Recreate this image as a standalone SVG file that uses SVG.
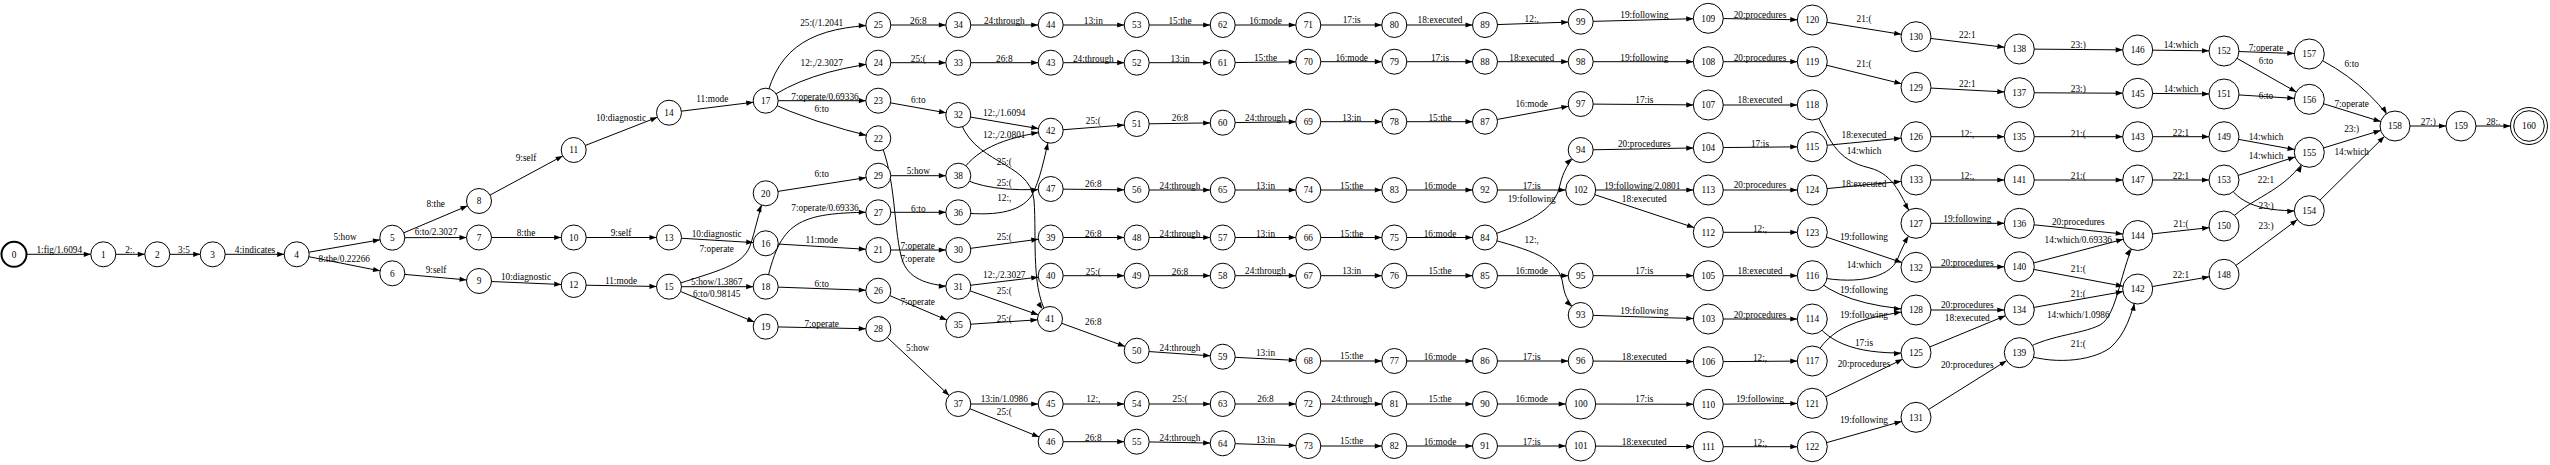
<svg xmlns="http://www.w3.org/2000/svg" width="2550" height="465" viewBox="0 0 2550 465">
<style>
.e{fill:none;stroke:#000;stroke-width:1;marker-end:url(#a2)}
.e3{marker-end:url(#a3)}
.e4{marker-end:url(#a4)}
text{font-family:"Liberation Serif","Times New Roman",serif;font-size:9.3px;text-anchor:middle;fill:#000}
.n circle{fill:#fff;stroke:#000;stroke-width:1}
</style>
<defs>
<marker id="a2" markerUnits="userSpaceOnUse" markerWidth="8" markerHeight="6" refX="19.5" refY="0" orient="auto" overflow="visible" style="overflow:visible"><path d="M0,-2.6 L7,0 L0,2.6 Z" fill="#000"/></marker>
<marker id="a3" markerUnits="userSpaceOnUse" markerWidth="8" markerHeight="6" refX="22" refY="0" orient="auto" overflow="visible" style="overflow:visible"><path d="M0,-2.6 L7,0 L0,2.6 Z" fill="#000"/></marker>
<marker id="a4" markerUnits="userSpaceOnUse" markerWidth="8" markerHeight="6" refX="25.5" refY="0" orient="auto" overflow="visible" style="overflow:visible"><path d="M0,-2.6 L7,0 L0,2.6 Z" fill="#000"/></marker>
</defs>
<rect width="2550" height="465" fill="#fff"/>
<g id="edges">
<path class="e" d="M14,254.3 L103.3,254.3"/><text x="59.3" y="253.2">1:fig/1.6094</text>
<path class="e" d="M103.3,254.3 L157.3,254.3"/><text x="130" y="253.2">2:.</text>
<path class="e" d="M157.3,254.3 L212.7,254.3"/><text x="184" y="253.2">3:5</text>
<path class="e" d="M212.7,254.3 L296.7,254.3"/><text x="255" y="253.2">4:indicates</text>
<path class="e" d="M296.7,254.3 L392.3,237.7"/><text x="345" y="239.9">5:how</text>
<path class="e" d="M296.7,254.3 L392.3,273.3"/><text x="344.3" y="261.5">8:the/0.22266</text>
<path class="e" d="M392.3,237.7 L479,201"/><text x="435.7" y="206.5">8:the</text>
<path class="e" d="M392.3,237.7 L479,237.5"/><text x="436" y="235.2">6:to/2.3027</text>
<path class="e" d="M392.3,273.3 L479,281"/><text x="436" y="272.5">9:self</text>
<path class="e" d="M479,201 L573.7,150"/><text x="526" y="160.9">9:self</text>
<path class="e" d="M479,237.5 L573.7,237.5"/><text x="526" y="235.5">8:the</text>
<path class="e" d="M479,281 L573.7,285"/><text x="526" y="279.9">10:diagnostic</text>
<path class="e" d="M573.7,150 L669,112.7"/><text x="621" y="120.5">10:diagnostic</text>
<path class="e" d="M573.7,237.5 L669,237.5"/><text x="621" y="235.5">9:self</text>
<path class="e" d="M573.7,285 L669,286.7"/><text x="621" y="284.2">11:mode</text>
<path class="e" d="M669,112.7 L765.7,100.7"/><text x="712.3" y="102.2">11:mode</text>
<path class="e" d="M669,237.5 L765.7,243.3"/><text x="716.7" y="237.2">10:diagnostic</text>
<path class="e" d="M669,286.7 C720,270 742,266 750,246 C755,232 758,214 765.7,193.3"/><text x="716.7" y="252.2">7:operate</text>
<path class="e" d="M669,286.7 L765.7,286.7"/><text x="716.7" y="284.9">5:how/1.3867</text>
<path class="e" d="M669,286.7 L765.7,326.7"/><text x="716.7" y="297.2">6:to/0.98145</text>
<path class="e" d="M765.7,100.7 C778,45 815,27 878.3,25"/><text x="821.7" y="25.9">25:(/1.2041</text>
<path class="e" d="M765.7,100.7 Q805,72 878.3,62.7"/><text x="821.7" y="65.5">12:,/2.3027</text>
<path class="e" d="M765.7,100.7 L878.3,100.7"/><text x="825" y="99.9">7:operate/0.69336</text>
<path class="e" d="M765.7,100.7 Q810,122 878.3,138.3"/><text x="821.7" y="112.2">6:to</text>
<path class="e" d="M765.7,193.3 L878.3,175.7"/><text x="821.7" y="176.9">6:to</text>
<path class="e" d="M765.7,286.7 C780,222 795,212 878.3,212.3"/><text x="825" y="210.9">7:operate/0.69336</text>
<path class="e" d="M765.7,243.3 L878.3,250"/><text x="821.7" y="243.2">11:mode</text>
<path class="e" d="M765.7,286.7 L878.3,290.7"/><text x="821.7" y="286.5">6:to</text>
<path class="e" d="M765.7,326.7 L878.3,329"/><text x="821.7" y="326.5">7:operate</text>
<path class="e" d="M878.3,25 L958.3,25"/><text x="918.3" y="23.9">26:8</text>
<path class="e" d="M878.3,62.7 L958.3,62.7"/><text x="918.3" y="61.5">25:(</text>
<path class="e" d="M878.3,100.7 L958.3,115"/><text x="918.3" y="103.2">6:to</text>
<path class="e" d="M878.3,175.7 L958.3,175.7"/><text x="918.3" y="174.2">5:how</text>
<path class="e" d="M878.3,212.3 L958.3,212.3"/><text x="918.3" y="211.5">6:to</text>
<path class="e" d="M878.3,250 L958.3,250"/><text x="917.7" y="249.2">7:operate</text>
<path class="e" d="M878.3,138.3 C897,175 893,235 903,262 C910,280 930,286 958.3,286.7"/><text x="917.7" y="261.5">7:operate</text>
<path class="e" d="M878.3,290.7 L958.3,325"/><text x="917.7" y="304.9">7:operate</text>
<path class="e" d="M878.3,329 L958.3,404"/><text x="917.7" y="350.5">5:how</text>
<path class="e" d="M958.3,25 L1050.7,25"/><text x="1004.3" y="23.9">24:through</text>
<path class="e" d="M958.3,62.7 L1050.7,62.7"/><text x="1004.3" y="61.5">26:8</text>
<path class="e" d="M958.3,115 L1050.7,130.7"/><text x="1004.3" y="115.9">12:,/1.6094</text>
<path class="e" d="M958.3,175.7 C975,150 1000,138 1050.7,130.7"/><text x="1004.3" y="137.5">12:,/2.0801</text>
<path class="e" d="M958.3,115 C970,165 1030,160 1034,200 C1037,240 1030,292 1050,319"/><text x="1004.3" y="164.9">25:(</text>
<path class="e" d="M958.3,175.7 Q985,193 1050.7,189"/><text x="1004.3" y="185.9">25:(</text>
<path class="e" d="M958.3,212.3 C990,216 1020,214 1032,195 C1040,180 1044,160 1050.7,130.7"/><text x="1004.3" y="200.5">12:,</text>
<path class="e" d="M958.3,250 L1050.7,237.5"/><text x="1004.3" y="239.9">25:(</text>
<path class="e" d="M958.3,286.7 L1050.7,275.7"/><text x="1004.3" y="277.5">12:,/2.3027</text>
<path class="e" d="M958.3,286.7 L1050,319"/><text x="1004.3" y="294.2">25:(</text>
<path class="e" d="M958.3,325 L1050,319"/><text x="1004.3" y="322.2">25:(</text>
<path class="e" d="M958.3,404 L1050.7,404"/><text x="1004.3" y="402.2">13:in/1.0986</text>
<path class="e" d="M958.3,404 L1050.7,441.7"/><text x="1004.3" y="414.9">25:(</text>
<path class="e" d="M1050.7,25 L1136.7,25"/><text x="1093.3" y="23.9">13:in</text>
<path class="e" d="M1050.7,62.7 L1136.7,62.7"/><text x="1093.3" y="61.5">24:through</text>
<path class="e" d="M1050.7,130.7 L1136.7,124"/><text x="1093.3" y="124.2">25:(</text>
<path class="e" d="M1050.7,189 L1136.7,190"/><text x="1093.3" y="186.5">26:8</text>
<path class="e" d="M1050.7,237.5 L1136.7,237.5"/><text x="1093.3" y="237.2">26:8</text>
<path class="e" d="M1050.7,275.7 L1136.7,275.7"/><text x="1093.3" y="274.9">25:(</text>
<path class="e" d="M1050,319 L1136.7,350.7"/><text x="1093.3" y="324.9">26:8</text>
<path class="e" d="M1050.7,404 L1136.7,404"/><text x="1093.3" y="402.2">12:,</text>
<path class="e" d="M1050.7,441.7 L1136.7,441.7"/><text x="1093.3" y="440.5">26:8</text>
<path class="e" d="M1136.7,25 L1222.7,25"/><text x="1180" y="23.9">15:the</text>
<path class="e" d="M1136.7,62.7 L1222.7,62.7"/><text x="1180" y="61.5">13:in</text>
<path class="e" d="M1136.7,124 L1222.7,122.7"/><text x="1180" y="120.5">26:8</text>
<path class="e" d="M1136.7,190 L1222.7,190"/><text x="1180" y="188.9">24:through</text>
<path class="e" d="M1136.7,237.5 L1222.7,237.5"/><text x="1180" y="237.2">24:through</text>
<path class="e" d="M1136.7,275.7 L1222.7,275.7"/><text x="1180" y="274.9">26:8</text>
<path class="e" d="M1136.7,350.7 L1222.7,356.7"/><text x="1180" y="350.5">24:through</text>
<path class="e" d="M1136.7,404 L1222.7,404"/><text x="1180" y="402.2">25:(</text>
<path class="e" d="M1136.7,441.7 L1222.7,443.3"/><text x="1180" y="440.5">24:through</text>
<path class="e" d="M1222.7,25 L1308.3,25"/><text x="1265.5" y="23.9">16:mode</text>
<path class="e" d="M1222.7,62.7 L1308.3,61.7"/><text x="1265.5" y="60.5">15:the</text>
<path class="e" d="M1222.7,122.7 L1308.3,121.7"/><text x="1265.5" y="120.9">24:through</text>
<path class="e" d="M1222.7,190 L1308.3,190"/><text x="1265.5" y="188.9">13:in</text>
<path class="e" d="M1222.7,237.5 L1308.3,237.5"/><text x="1265.5" y="237.2">13:in</text>
<path class="e" d="M1222.7,275.7 L1308.3,275.7"/><text x="1265.5" y="274.2">24:through</text>
<path class="e" d="M1222.7,356.7 L1308.3,361"/><text x="1265.5" y="356.2">13:in</text>
<path class="e" d="M1222.7,404 L1308.3,404"/><text x="1265.5" y="402.2">26:8</text>
<path class="e" d="M1222.7,443.3 L1308.3,446"/><text x="1265.5" y="443.2">13:in</text>
<path class="e" d="M1308.3,25 L1394.3,25"/><text x="1351.7" y="23.2">17:is</text>
<path class="e" d="M1308.3,61.7 L1394.3,61.7"/><text x="1351.7" y="60.5">16:mode</text>
<path class="e" d="M1308.3,121.7 L1394.3,121.7"/><text x="1351.7" y="120.5">13:in</text>
<path class="e" d="M1308.3,190 L1394.3,190"/><text x="1351.7" y="188.9">15:the</text>
<path class="e" d="M1308.3,237.5 L1394.3,237.5"/><text x="1351.7" y="237.2">15:the</text>
<path class="e" d="M1308.3,275.7 L1394.3,275.7"/><text x="1351.7" y="274.2">13:in</text>
<path class="e" d="M1308.3,361 L1394.3,361"/><text x="1351.7" y="359.2">15:the</text>
<path class="e" d="M1308.3,404 L1394.3,404"/><text x="1351.7" y="402.2">24:through</text>
<path class="e" d="M1308.3,446 L1394.3,446"/><text x="1351.7" y="444.2">15:the</text>
<path class="e" d="M1394.3,25 L1485,25"/><text x="1440" y="23.2">18:executed</text>
<path class="e" d="M1394.3,61.7 L1485,61.7"/><text x="1440" y="60.5">17:is</text>
<path class="e" d="M1394.3,121.7 L1485,121.7"/><text x="1440" y="120.5">15:the</text>
<path class="e" d="M1394.3,190 L1485,190"/><text x="1440" y="188.9">16:mode</text>
<path class="e" d="M1394.3,237.5 L1485,237.5"/><text x="1440" y="237.2">16:mode</text>
<path class="e" d="M1394.3,275.7 L1485,275.7"/><text x="1440" y="274.2">15:the</text>
<path class="e" d="M1394.3,361 L1485,361"/><text x="1440" y="359.9">16:mode</text>
<path class="e" d="M1394.3,404 L1485,404"/><text x="1440" y="402.2">15:the</text>
<path class="e" d="M1394.3,446 L1485,446"/><text x="1440" y="444.9">16:mode</text>
<path class="e" d="M1485,25 L1580.7,21.7"/><text x="1531.7" y="21.5">12:,</text>
<path class="e" d="M1485,61.7 L1580.7,61.7"/><text x="1531.7" y="60.5">18:executed</text>
<path class="e" d="M1485,121.7 L1580.7,104"/><text x="1531.7" y="107.2">16:mode</text>
<path class="e e3" d="M1485,190 L1580.7,190"/><text x="1531.7" y="188.9">17:is</text>
<path class="e" d="M1485,237.5 C1530,222 1555,210 1560,185 C1563,172 1568,162 1580.7,150"/><text x="1531.7" y="201.5">19:following</text>
<path class="e" d="M1485,237.5 C1530,250 1560,258 1563,285 C1565,298 1570,305 1580.7,315"/><text x="1531.7" y="242.5">12:,</text>
<path class="e" d="M1485,275.7 L1580.7,275.7"/><text x="1531.7" y="274.2">16:mode</text>
<path class="e" d="M1485,361 L1580.7,361"/><text x="1531.7" y="359.9">17:is</text>
<path class="e e3" d="M1485,404 L1580.7,404"/><text x="1531.7" y="402.2">16:mode</text>
<path class="e e3" d="M1485,446 L1580.7,446"/><text x="1531.7" y="444.9">17:is</text>
<path class="e e3" d="M1580.7,21.7 L1708.3,18.3"/><text x="1644.3" y="17.5">19:following</text>
<path class="e e3" d="M1580.7,61.7 L1708.3,61.7"/><text x="1644.3" y="60.5">19:following</text>
<path class="e e3" d="M1580.7,104 L1708.3,105"/><text x="1644.3" y="103.2">17:is</text>
<path class="e e3" d="M1580.7,150 L1708.3,147.7"/><text x="1644.3" y="146.5">20:procedures</text>
<path class="e e3" d="M1580.7,190 L1708.3,190"/><text x="1642.3" y="188.9">19:following/2.0801</text>
<path class="e e3" d="M1580.7,190 L1708.3,232.3"/><text x="1644.3" y="201.5">18:executed</text>
<path class="e e3" d="M1580.7,275.7 L1708.3,275.7"/><text x="1644.3" y="274.2">17:is</text>
<path class="e e3" d="M1580.7,315 L1708.3,319"/><text x="1644.3" y="314.2">19:following</text>
<path class="e e3" d="M1580.7,361 L1708.3,361.7"/><text x="1644.3" y="359.9">18:executed</text>
<path class="e e3" d="M1580.7,404 L1708.3,404.3"/><text x="1644.3" y="402.2">17:is</text>
<path class="e e3" d="M1580.7,446 L1708.3,446.7"/><text x="1644.3" y="444.9">18:executed</text>
<path class="e e3" d="M1708.3,18.3 L1812.3,20"/><text x="1760" y="17.5">20:procedures</text>
<path class="e e3" d="M1708.3,61.7 L1812.3,61.7"/><text x="1760" y="60.5">20:procedures</text>
<path class="e e3" d="M1708.3,105 L1812.3,105"/><text x="1760" y="103.2">18:executed</text>
<path class="e e3" d="M1708.3,147.7 L1812.3,146.7"/><text x="1760" y="146.5">17:is</text>
<path class="e e3" d="M1708.3,190 L1812.3,190"/><text x="1760" y="188.2">20:procedures</text>
<path class="e e3" d="M1708.3,232.3 L1812.3,232.3"/><text x="1760" y="231.5">12:,</text>
<path class="e e3" d="M1708.3,275.7 L1812.3,275.7"/><text x="1760" y="274.2">18:executed</text>
<path class="e e3" d="M1708.3,319 L1812.3,319"/><text x="1760" y="317.5">20:procedures</text>
<path class="e e3" d="M1708.3,361.7 L1812.3,361"/><text x="1760" y="360.9">12:,</text>
<path class="e e3" d="M1708.3,404.3 L1812.3,403.3"/><text x="1760" y="402.2">19:following</text>
<path class="e e3" d="M1708.3,446.7 L1812.3,446.7"/><text x="1760" y="445.5">12:,</text>
<path class="e e3" d="M1812.3,20 L1916,36.7"/><text x="1864" y="21.5">21:(</text>
<path class="e e3" d="M1812.3,61.7 L1916,87.3"/><text x="1864" y="67.2">21:(</text>
<path class="e e3" d="M1812.3,146.7 L1916,136.7"/><text x="1864" y="138.2">18:executed</text>
<path class="e e3" d="M1812.3,105 C1830,140 1835,160 1870,168 C1895,175 1900,195 1916,223.3"/><text x="1864" y="154.2">14:which</text>
<path class="e e3" d="M1812.3,190 L1916,180"/><text x="1864" y="187.2">18:executed</text>
<path class="e e3" d="M1812.3,232.3 L1916,267.3"/><text x="1864" y="240.2">19:following</text>
<path class="e e3" d="M1812.3,275.7 C1850,285 1890,280 1898,258 C1902,248 1906,240 1916,223.3"/><text x="1864" y="268.2">14:which</text>
<path class="e e3" d="M1812.3,275.7 Q1840,305 1916,310"/><text x="1864" y="293.2">19:following</text>
<path class="e e3" d="M1812.3,361 C1830,325 1860,318 1916,310"/><text x="1864" y="318.2">19:following</text>
<path class="e e3" d="M1812.3,319 C1830,345 1860,355 1916,352.7"/><text x="1864" y="345.5">17:is</text>
<path class="e e3" d="M1812.3,403.3 L1916,352.7"/><text x="1864" y="366.5">20:procedures</text>
<path class="e e3" d="M1812.3,446.7 L1916,417.3"/><text x="1864" y="423.2">19:following</text>
<path class="e e3" d="M1916,36.7 L2019.3,49"/><text x="1967.3" y="38.2">22:1</text>
<path class="e e3" d="M1916,87.3 L2019.3,92.7"/><text x="1967.3" y="86.5">22:1</text>
<path class="e e3" d="M1916,136.7 L2019.3,136.7"/><text x="1967.3" y="136.5">12:,</text>
<path class="e e3" d="M1916,180 L2019.3,180"/><text x="1967.3" y="179.2">12:,</text>
<path class="e e3" d="M1916,223.3 L2019.3,223.3"/><text x="1967.3" y="222.2">19:following</text>
<path class="e e3" d="M1916,267.3 L2019.3,266.7"/><text x="1967.3" y="265.5">20:procedures</text>
<path class="e e3" d="M1916,310 L2019.3,310"/><text x="1967.3" y="308.2">20:procedures</text>
<path class="e e3" d="M1916,352.7 L2019.3,310"/><text x="1967.3" y="320.5">18:executed</text>
<path class="e e3" d="M1916,417.3 L2019.3,352.7"/><text x="1967.3" y="367.9">20:procedures</text>
<path class="e e3" d="M2019.3,49 L2137.7,50"/><text x="2078.3" y="48.2">23:)</text>
<path class="e e3" d="M2019.3,92.7 L2137.7,93.3"/><text x="2078.3" y="91.5">23:)</text>
<path class="e e3" d="M2019.3,136.7 L2137.7,136.7"/><text x="2078.3" y="136.5">21:(</text>
<path class="e e3" d="M2019.3,180 L2137.7,180"/><text x="2078.3" y="179.2">21:(</text>
<path class="e e3" d="M2019.3,223.3 L2137.7,235.5"/><text x="2078.3" y="224.9">20:procedures</text>
<path class="e e3" d="M2019.3,266.7 L2137.7,235.5"/><text x="2078.3" y="243.2">14:which/0.69336</text>
<path class="e e3" d="M2019.3,266.7 L2137.7,289"/><text x="2078.3" y="271.5">21:(</text>
<path class="e e3" d="M2019.3,310 L2137.7,289"/><text x="2078.3" y="296.5">21:(</text>
<path class="e e3" d="M2019.3,352.7 C2045,335 2080,335 2100,325 C2118,315 2120,268 2137.7,235.5"/><text x="2078.3" y="318.2">14:which/1.0986</text>
<path class="e e3" d="M2019.3,352.7 C2050,365 2090,362 2110,348 C2125,335 2132,315 2137.7,289"/><text x="2078.3" y="346.5">21:(</text>
<path class="e e3" d="M2137.7,50 L2224,51"/><text x="2181" y="48.2">14:which</text>
<path class="e e3" d="M2137.7,93.3 L2224,94"/><text x="2181" y="92.2">14:which</text>
<path class="e e3" d="M2137.7,136.7 L2224,136.7"/><text x="2181" y="135.9">22:1</text>
<path class="e e3" d="M2137.7,180 L2224,180"/><text x="2181" y="179.2">22:1</text>
<path class="e e3" d="M2137.7,235.5 L2224,226"/><text x="2181" y="227.2">21:(</text>
<path class="e e3" d="M2137.7,289 L2224,274.3"/><text x="2181" y="277.5">22:1</text>
<path class="e e3" d="M2224,51 L2309.3,54"/><text x="2266" y="50.5">7:operate</text>
<path class="e e3" d="M2224,51 L2309.3,99.3"/><text x="2266" y="63.9">6:to</text>
<path class="e e3" d="M2224,94 L2309.3,99.3"/><text x="2266" y="98.9">6:to</text>
<path class="e e3" d="M2224,136.7 L2309.3,152.3"/><text x="2266" y="139.9">14:which</text>
<path class="e e3" d="M2224,180 L2309.3,152.3"/><text x="2266" y="159.2">14:which</text>
<path class="e e3" d="M2224,226 C2250,195 2285,195 2309.3,152.3"/><text x="2266" y="182.5">22:1</text>
<path class="e e3" d="M2224,180 C2240,205 2260,212 2309.3,210.7"/><text x="2266" y="209.2">23:)</text>
<path class="e e3" d="M2224,274.3 L2309.3,210.7"/><text x="2266" y="228.9">23:)</text>
<path class="e e3" d="M2309.3,54 Q2365,80 2395,126"/><text x="2351.7" y="67.2">6:to</text>
<path class="e e3" d="M2309.3,99.3 L2395,126"/><text x="2351.7" y="106.5">7:operate</text>
<path class="e e3" d="M2309.3,152.3 L2395,126"/><text x="2351.7" y="131.5">23:)</text>
<path class="e e3" d="M2309.3,210.7 L2395,126"/><text x="2351.7" y="154.9">14:which</text>
<path class="e e3" d="M2395,126 L2461,126"/><text x="2428.3" y="124.9">27:)</text>
<path class="e e4" d="M2461,126 L2529,126"/><text x="2493.3" y="124.9">28:.</text>
</g>
<g id="nodes" class="n">
<g id="n0"><circle cx="14" cy="254.3" r="12.5" stroke-width="2" style="stroke-width:2"/><text x="14" y="257.6">0</text></g>
<g id="n1"><circle cx="103.3" cy="254.3" r="12.5"/><text x="103.3" y="257.6">1</text></g>
<g id="n2"><circle cx="157.3" cy="254.3" r="12.5"/><text x="157.3" y="257.6">2</text></g>
<g id="n3"><circle cx="212.7" cy="254.3" r="12.5"/><text x="212.7" y="257.6">3</text></g>
<g id="n4"><circle cx="296.7" cy="254.3" r="12.5"/><text x="296.7" y="257.6">4</text></g>
<g id="n5"><circle cx="392.3" cy="237.7" r="12.5"/><text x="392.3" y="241">5</text></g>
<g id="n6"><circle cx="392.3" cy="273.3" r="12.5"/><text x="392.3" y="276.6">6</text></g>
<g id="n7"><circle cx="479" cy="237.5" r="12.5"/><text x="479" y="240.8">7</text></g>
<g id="n8"><circle cx="479" cy="201" r="12.5"/><text x="479" y="204.3">8</text></g>
<g id="n9"><circle cx="479" cy="281" r="12.5"/><text x="479" y="284.3">9</text></g>
<g id="n10"><circle cx="573.7" cy="237.5" r="12.5"/><text x="573.7" y="240.8">10</text></g>
<g id="n11"><circle cx="573.7" cy="150" r="12.5"/><text x="573.7" y="153.3">11</text></g>
<g id="n12"><circle cx="573.7" cy="285" r="12.5"/><text x="573.7" y="288.3">12</text></g>
<g id="n13"><circle cx="669" cy="237.5" r="12.5"/><text x="669" y="240.8">13</text></g>
<g id="n14"><circle cx="669" cy="112.7" r="12.5"/><text x="669" y="116">14</text></g>
<g id="n15"><circle cx="669" cy="286.7" r="12.5"/><text x="669" y="290">15</text></g>
<g id="n16"><circle cx="765.7" cy="243.3" r="12.5"/><text x="765.7" y="246.6">16</text></g>
<g id="n17"><circle cx="765.7" cy="100.7" r="12.5"/><text x="765.7" y="104">17</text></g>
<g id="n18"><circle cx="765.7" cy="286.7" r="12.5"/><text x="765.7" y="290">18</text></g>
<g id="n19"><circle cx="765.7" cy="326.7" r="12.5"/><text x="765.7" y="330">19</text></g>
<g id="n20"><circle cx="765.7" cy="193.3" r="12.5"/><text x="765.7" y="196.6">20</text></g>
<g id="n21"><circle cx="878.3" cy="250" r="12.5"/><text x="878.3" y="253.3">21</text></g>
<g id="n22"><circle cx="878.3" cy="138.3" r="12.5"/><text x="878.3" y="141.6">22</text></g>
<g id="n23"><circle cx="878.3" cy="100.7" r="12.5"/><text x="878.3" y="104">23</text></g>
<g id="n24"><circle cx="878.3" cy="62.7" r="12.5"/><text x="878.3" y="66">24</text></g>
<g id="n25"><circle cx="878.3" cy="25" r="12.5"/><text x="878.3" y="28.3">25</text></g>
<g id="n26"><circle cx="878.3" cy="290.7" r="12.5"/><text x="878.3" y="294">26</text></g>
<g id="n27"><circle cx="878.3" cy="212.3" r="12.5"/><text x="878.3" y="215.6">27</text></g>
<g id="n28"><circle cx="878.3" cy="329" r="12.5"/><text x="878.3" y="332.3">28</text></g>
<g id="n29"><circle cx="878.3" cy="175.7" r="12.5"/><text x="878.3" y="179">29</text></g>
<g id="n30"><circle cx="958.3" cy="250" r="12.5"/><text x="958.3" y="253.3">30</text></g>
<g id="n31"><circle cx="958.3" cy="286.7" r="12.5"/><text x="958.3" y="290">31</text></g>
<g id="n32"><circle cx="958.3" cy="115" r="12.5"/><text x="958.3" y="118.3">32</text></g>
<g id="n33"><circle cx="958.3" cy="62.7" r="12.5"/><text x="958.3" y="66">33</text></g>
<g id="n34"><circle cx="958.3" cy="25" r="12.5"/><text x="958.3" y="28.3">34</text></g>
<g id="n35"><circle cx="958.3" cy="325" r="12.5"/><text x="958.3" y="328.3">35</text></g>
<g id="n36"><circle cx="958.3" cy="212.3" r="12.5"/><text x="958.3" y="215.6">36</text></g>
<g id="n37"><circle cx="958.3" cy="404" r="12.5"/><text x="958.3" y="407.3">37</text></g>
<g id="n38"><circle cx="958.3" cy="175.7" r="12.5"/><text x="958.3" y="179">38</text></g>
<g id="n39"><circle cx="1050.7" cy="237.5" r="12.5"/><text x="1050.7" y="240.8">39</text></g>
<g id="n40"><circle cx="1050.7" cy="275.7" r="12.5"/><text x="1050.7" y="279">40</text></g>
<g id="n41"><circle cx="1050" cy="319" r="12.5"/><text x="1050" y="322.3">41</text></g>
<g id="n42"><circle cx="1050.7" cy="130.7" r="12.5"/><text x="1050.7" y="134">42</text></g>
<g id="n43"><circle cx="1050.7" cy="62.7" r="12.5"/><text x="1050.7" y="66">43</text></g>
<g id="n44"><circle cx="1050.7" cy="25" r="12.5"/><text x="1050.7" y="28.3">44</text></g>
<g id="n45"><circle cx="1050.7" cy="404" r="12.5"/><text x="1050.7" y="407.3">45</text></g>
<g id="n46"><circle cx="1050.7" cy="441.7" r="12.5"/><text x="1050.7" y="445">46</text></g>
<g id="n47"><circle cx="1050.7" cy="189" r="12.5"/><text x="1050.7" y="192.3">47</text></g>
<g id="n48"><circle cx="1136.7" cy="237.5" r="12.5"/><text x="1136.7" y="240.8">48</text></g>
<g id="n49"><circle cx="1136.7" cy="275.7" r="12.5"/><text x="1136.7" y="279">49</text></g>
<g id="n50"><circle cx="1136.7" cy="350.7" r="12.5"/><text x="1136.7" y="354">50</text></g>
<g id="n51"><circle cx="1136.7" cy="124" r="12.5"/><text x="1136.7" y="127.3">51</text></g>
<g id="n52"><circle cx="1136.7" cy="62.7" r="12.5"/><text x="1136.7" y="66">52</text></g>
<g id="n53"><circle cx="1136.7" cy="25" r="12.5"/><text x="1136.7" y="28.3">53</text></g>
<g id="n54"><circle cx="1136.7" cy="404" r="12.5"/><text x="1136.7" y="407.3">54</text></g>
<g id="n55"><circle cx="1136.7" cy="441.7" r="12.5"/><text x="1136.7" y="445">55</text></g>
<g id="n56"><circle cx="1136.7" cy="190" r="12.5"/><text x="1136.7" y="193.3">56</text></g>
<g id="n57"><circle cx="1222.7" cy="237.5" r="12.5"/><text x="1222.7" y="240.8">57</text></g>
<g id="n58"><circle cx="1222.7" cy="275.7" r="12.5"/><text x="1222.7" y="279">58</text></g>
<g id="n59"><circle cx="1222.7" cy="356.7" r="12.5"/><text x="1222.7" y="360">59</text></g>
<g id="n60"><circle cx="1222.7" cy="122.7" r="12.5"/><text x="1222.7" y="126">60</text></g>
<g id="n61"><circle cx="1222.7" cy="62.7" r="12.5"/><text x="1222.7" y="66">61</text></g>
<g id="n62"><circle cx="1222.7" cy="25" r="12.5"/><text x="1222.7" y="28.3">62</text></g>
<g id="n63"><circle cx="1222.7" cy="404" r="12.5"/><text x="1222.7" y="407.3">63</text></g>
<g id="n64"><circle cx="1222.7" cy="443.3" r="12.5"/><text x="1222.7" y="446.6">64</text></g>
<g id="n65"><circle cx="1222.7" cy="190" r="12.5"/><text x="1222.7" y="193.3">65</text></g>
<g id="n66"><circle cx="1308.3" cy="237.5" r="12.5"/><text x="1308.3" y="240.8">66</text></g>
<g id="n67"><circle cx="1308.3" cy="275.7" r="12.5"/><text x="1308.3" y="279">67</text></g>
<g id="n68"><circle cx="1308.3" cy="361" r="12.5"/><text x="1308.3" y="364.3">68</text></g>
<g id="n69"><circle cx="1308.3" cy="121.7" r="12.5"/><text x="1308.3" y="125">69</text></g>
<g id="n70"><circle cx="1308.3" cy="61.7" r="12.5"/><text x="1308.3" y="65">70</text></g>
<g id="n71"><circle cx="1308.3" cy="25" r="12.5"/><text x="1308.3" y="28.3">71</text></g>
<g id="n72"><circle cx="1308.3" cy="404" r="12.5"/><text x="1308.3" y="407.3">72</text></g>
<g id="n73"><circle cx="1308.3" cy="446" r="12.5"/><text x="1308.3" y="449.3">73</text></g>
<g id="n74"><circle cx="1308.3" cy="190" r="12.5"/><text x="1308.3" y="193.3">74</text></g>
<g id="n75"><circle cx="1394.3" cy="237.5" r="12.5"/><text x="1394.3" y="240.8">75</text></g>
<g id="n76"><circle cx="1394.3" cy="275.7" r="12.5"/><text x="1394.3" y="279">76</text></g>
<g id="n77"><circle cx="1394.3" cy="361" r="12.5"/><text x="1394.3" y="364.3">77</text></g>
<g id="n78"><circle cx="1394.3" cy="121.7" r="12.5"/><text x="1394.3" y="125">78</text></g>
<g id="n79"><circle cx="1394.3" cy="61.7" r="12.5"/><text x="1394.3" y="65">79</text></g>
<g id="n80"><circle cx="1394.3" cy="25" r="12.5"/><text x="1394.3" y="28.3">80</text></g>
<g id="n81"><circle cx="1394.3" cy="404" r="12.5"/><text x="1394.3" y="407.3">81</text></g>
<g id="n82"><circle cx="1394.3" cy="446" r="12.5"/><text x="1394.3" y="449.3">82</text></g>
<g id="n83"><circle cx="1394.3" cy="190" r="12.5"/><text x="1394.3" y="193.3">83</text></g>
<g id="n84"><circle cx="1485" cy="237.5" r="12.5"/><text x="1485" y="240.8">84</text></g>
<g id="n85"><circle cx="1485" cy="275.7" r="12.5"/><text x="1485" y="279">85</text></g>
<g id="n86"><circle cx="1485" cy="361" r="12.5"/><text x="1485" y="364.3">86</text></g>
<g id="n87"><circle cx="1485" cy="121.7" r="12.5"/><text x="1485" y="125">87</text></g>
<g id="n88"><circle cx="1485" cy="61.7" r="12.5"/><text x="1485" y="65">88</text></g>
<g id="n89"><circle cx="1485" cy="25" r="12.5"/><text x="1485" y="28.3">89</text></g>
<g id="n90"><circle cx="1485" cy="404" r="12.5"/><text x="1485" y="407.3">90</text></g>
<g id="n91"><circle cx="1485" cy="446" r="12.5"/><text x="1485" y="449.3">91</text></g>
<g id="n92"><circle cx="1485" cy="190" r="12.5"/><text x="1485" y="193.3">92</text></g>
<g id="n93"><circle cx="1580.7" cy="315" r="12.5"/><text x="1580.7" y="318.3">93</text></g>
<g id="n94"><circle cx="1580.7" cy="150" r="12.5"/><text x="1580.7" y="153.3">94</text></g>
<g id="n95"><circle cx="1580.7" cy="275.7" r="12.5"/><text x="1580.7" y="279">95</text></g>
<g id="n96"><circle cx="1580.7" cy="361" r="12.5"/><text x="1580.7" y="364.3">96</text></g>
<g id="n97"><circle cx="1580.7" cy="104" r="12.5"/><text x="1580.7" y="107.3">97</text></g>
<g id="n98"><circle cx="1580.7" cy="61.7" r="12.5"/><text x="1580.7" y="65">98</text></g>
<g id="n99"><circle cx="1580.7" cy="21.7" r="12.5"/><text x="1580.7" y="25">99</text></g>
<g id="n100"><circle cx="1580.7" cy="404" r="15"/><text x="1580.7" y="407.3">100</text></g>
<g id="n101"><circle cx="1580.7" cy="446" r="15"/><text x="1580.7" y="449.3">101</text></g>
<g id="n102"><circle cx="1580.7" cy="190" r="15"/><text x="1580.7" y="193.3">102</text></g>
<g id="n103"><circle cx="1708.3" cy="319" r="15"/><text x="1708.3" y="322.3">103</text></g>
<g id="n104"><circle cx="1708.3" cy="147.7" r="15"/><text x="1708.3" y="151">104</text></g>
<g id="n105"><circle cx="1708.3" cy="275.7" r="15"/><text x="1708.3" y="279">105</text></g>
<g id="n106"><circle cx="1708.3" cy="361.7" r="15"/><text x="1708.3" y="365">106</text></g>
<g id="n107"><circle cx="1708.3" cy="105" r="15"/><text x="1708.3" y="108.3">107</text></g>
<g id="n108"><circle cx="1708.3" cy="61.7" r="15"/><text x="1708.3" y="65">108</text></g>
<g id="n109"><circle cx="1708.3" cy="18.3" r="15"/><text x="1708.3" y="21.6">109</text></g>
<g id="n110"><circle cx="1708.3" cy="404.3" r="15"/><text x="1708.3" y="407.6">110</text></g>
<g id="n111"><circle cx="1708.3" cy="446.7" r="15"/><text x="1708.3" y="450">111</text></g>
<g id="n112"><circle cx="1708.3" cy="232.3" r="15"/><text x="1708.3" y="235.6">112</text></g>
<g id="n113"><circle cx="1708.3" cy="190" r="15"/><text x="1708.3" y="193.3">113</text></g>
<g id="n114"><circle cx="1812.3" cy="319" r="15"/><text x="1812.3" y="322.3">114</text></g>
<g id="n115"><circle cx="1812.3" cy="146.7" r="15"/><text x="1812.3" y="150">115</text></g>
<g id="n116"><circle cx="1812.3" cy="275.7" r="15"/><text x="1812.3" y="279">116</text></g>
<g id="n117"><circle cx="1812.3" cy="361" r="15"/><text x="1812.3" y="364.3">117</text></g>
<g id="n118"><circle cx="1812.3" cy="105" r="15"/><text x="1812.3" y="108.3">118</text></g>
<g id="n119"><circle cx="1812.3" cy="61.7" r="15"/><text x="1812.3" y="65">119</text></g>
<g id="n120"><circle cx="1812.3" cy="20" r="15"/><text x="1812.3" y="23.3">120</text></g>
<g id="n121"><circle cx="1812.3" cy="403.3" r="15"/><text x="1812.3" y="406.6">121</text></g>
<g id="n122"><circle cx="1812.3" cy="446.7" r="15"/><text x="1812.3" y="450">122</text></g>
<g id="n123"><circle cx="1812.3" cy="232.3" r="15"/><text x="1812.3" y="235.6">123</text></g>
<g id="n124"><circle cx="1812.3" cy="190" r="15"/><text x="1812.3" y="193.3">124</text></g>
<g id="n125"><circle cx="1916" cy="352.7" r="15"/><text x="1916" y="356">125</text></g>
<g id="n126"><circle cx="1916" cy="136.7" r="15"/><text x="1916" y="140">126</text></g>
<g id="n127"><circle cx="1916" cy="223.3" r="15"/><text x="1916" y="226.6">127</text></g>
<g id="n128"><circle cx="1916" cy="310" r="15"/><text x="1916" y="313.3">128</text></g>
<g id="n129"><circle cx="1916" cy="87.3" r="15"/><text x="1916" y="90.6">129</text></g>
<g id="n130"><circle cx="1916" cy="36.7" r="15"/><text x="1916" y="40">130</text></g>
<g id="n131"><circle cx="1916" cy="417.3" r="15"/><text x="1916" y="420.6">131</text></g>
<g id="n132"><circle cx="1916" cy="267.3" r="15"/><text x="1916" y="270.6">132</text></g>
<g id="n133"><circle cx="1916" cy="180" r="15"/><text x="1916" y="183.3">133</text></g>
<g id="n134"><circle cx="2019.3" cy="310" r="15"/><text x="2019.3" y="313.3">134</text></g>
<g id="n135"><circle cx="2019.3" cy="136.7" r="15"/><text x="2019.3" y="140">135</text></g>
<g id="n136"><circle cx="2019.3" cy="223.3" r="15"/><text x="2019.3" y="226.6">136</text></g>
<g id="n137"><circle cx="2019.3" cy="92.7" r="15"/><text x="2019.3" y="96">137</text></g>
<g id="n138"><circle cx="2019.3" cy="49" r="15"/><text x="2019.3" y="52.3">138</text></g>
<g id="n139"><circle cx="2019.3" cy="352.7" r="15"/><text x="2019.3" y="356">139</text></g>
<g id="n140"><circle cx="2019.3" cy="266.7" r="15"/><text x="2019.3" y="270">140</text></g>
<g id="n141"><circle cx="2019.3" cy="180" r="15"/><text x="2019.3" y="183.3">141</text></g>
<g id="n142"><circle cx="2137.7" cy="289" r="15"/><text x="2137.7" y="292.3">142</text></g>
<g id="n143"><circle cx="2137.7" cy="136.7" r="15"/><text x="2137.7" y="140">143</text></g>
<g id="n144"><circle cx="2137.7" cy="235.5" r="15"/><text x="2137.7" y="238.8">144</text></g>
<g id="n145"><circle cx="2137.7" cy="93.3" r="15"/><text x="2137.7" y="96.6">145</text></g>
<g id="n146"><circle cx="2137.7" cy="50" r="15"/><text x="2137.7" y="53.3">146</text></g>
<g id="n147"><circle cx="2137.7" cy="180" r="15"/><text x="2137.7" y="183.3">147</text></g>
<g id="n148"><circle cx="2224" cy="274.3" r="15"/><text x="2224" y="277.6">148</text></g>
<g id="n149"><circle cx="2224" cy="136.7" r="15"/><text x="2224" y="140">149</text></g>
<g id="n150"><circle cx="2224" cy="226" r="15"/><text x="2224" y="229.3">150</text></g>
<g id="n151"><circle cx="2224" cy="94" r="15"/><text x="2224" y="97.3">151</text></g>
<g id="n152"><circle cx="2224" cy="51" r="15"/><text x="2224" y="54.3">152</text></g>
<g id="n153"><circle cx="2224" cy="180" r="15"/><text x="2224" y="183.3">153</text></g>
<g id="n154"><circle cx="2309.3" cy="210.7" r="15"/><text x="2309.3" y="214">154</text></g>
<g id="n155"><circle cx="2309.3" cy="152.3" r="15"/><text x="2309.3" y="155.6">155</text></g>
<g id="n156"><circle cx="2309.3" cy="99.3" r="15"/><text x="2309.3" y="102.6">156</text></g>
<g id="n157"><circle cx="2309.3" cy="54" r="15"/><text x="2309.3" y="57.3">157</text></g>
<g id="n158"><circle cx="2395" cy="126" r="15"/><text x="2395" y="129.3">158</text></g>
<g id="n159"><circle cx="2461" cy="126" r="15"/><text x="2461" y="129.3">159</text></g>
<g id="n160"><circle cx="2529" cy="126" r="18.5"/><circle cx="2529" cy="126" r="15.3"/><text x="2529" y="129.3">160</text></g>
</g>
</svg>
